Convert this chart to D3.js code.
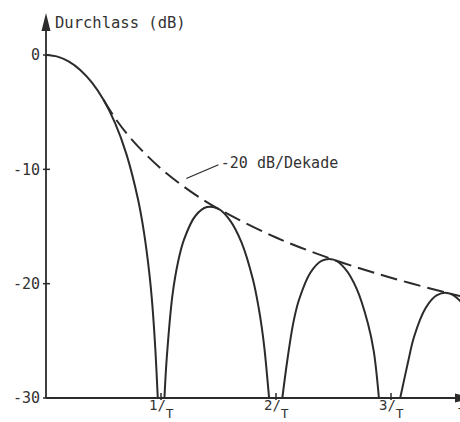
<!DOCTYPE html>
<html>
<head>
<meta charset="utf-8">
<script src="https://cdn.jsdelivr.net/npm/d3@7"></script>
<style>
  body { margin: 0; background: #fff; }
  svg { display: block; }
  text { font-family: "DejaVu Sans Mono", monospace; fill: #333; }
</style>
</head>
<body>
<div id="chart"></div>
<script>
// frequency in units of 1/T, attenuation in dB
const mainLobeF = [0, 0.1, 0.2, 0.3, 0.4, 0.5, 0.6, 0.7, 0.8, 0.85, 0.9, 0.925, 0.95, 0.972];
const mainLobeDb = [0, -0.14, -0.58, -1.33, -2.42, -3.92, -5.94, -8.69, -12.62, -15.39, -19.23, -21.9, -25.6, -30];

const lobe1F = [1.03, 1.05, 1.1, 1.15, 1.2, 1.3, 1.4, 1.5, 1.6, 1.7, 1.8, 1.85, 1.875, 1.9, 1.94];
const lobe1Db = [-30, -26.5, -20.97, -18.01, -16.14, -14.06, -13.3, -13.46, -14.46, -16.39, -19.66, -22.15, -23.74, -25.72, -30];

const lobe2F = [2.055, 2.1, 2.15, 2.2, 2.3, 2.4, 2.5, 2.6, 2.7, 2.8, 2.85, 2.895];
const lobe2Db = [-30, -26.59, -23.45, -21.41, -19.02, -17.98, -17.9, -18.68, -20.41, -23.5, -25.9, -30];

const lobe3F = [3.08, 3.15, 3.2, 3.3, 3.4, 3.5, 3.6, 3.7];
const lobe3Db = [-30, -26.77, -24.66, -22.15, -21.01, -20.83, -21.5, -23.15];

// -20 dB/Dekade envelope
const envF = [0.5, 0.6, 0.75, 1, 1.25, 1.5, 2, 2.5, 3, 3.5, 3.7];
const envDb = [-3.92, -5.51, -7.44, -9.94, -11.88, -13.46, -15.96, -17.9, -19.48, -20.83, -21.32];

const yTicks = [0, -10, -20, -30];
const xTicks = [1, 2, 3];
const xTickLabels = ["1", "2", "3"];

const W = 460, H = 422;
const ink = "#2b2b2b";

const svg = d3.select("#chart").append("svg")
  .attr("width", W)
  .attr("height", H);

const x = d3.scaleLinear().domain([0, 3.6]).range([46, 460]);
const y = d3.scaleLinear().domain([-30, 0]).range([398, 55]);

const line = d3.line()
  .x(d => x(d[0]))
  .y(d => y(d[1]))
  .curve(d3.curveCatmullRom.alpha(0.5));

const zip = (a, b) => a.map((v, i) => [v, b[i]]);

// axes
svg.append("line")
  .attr("x1", x(0)).attr("x2", x(0))
  .attr("y1", y(-30)).attr("y2", 24)
  .attr("stroke", ink).attr("stroke-width", 1.8);
svg.append("path")
  .attr("d", `M${x(0)},13 L${x(0) - 4.5},31 L${x(0) + 4.5},31 Z`)
  .attr("fill", ink);

svg.append("line")
  .attr("x1", x(0)).attr("x2", W)
  .attr("y1", y(-30)).attr("y2", y(-30))
  .attr("stroke", ink).attr("stroke-width", 1.8);
svg.append("path")
  .attr("d", `M${W - 5},${y(-30) - 4.5} L${W + 12},${y(-30)} L${W - 5},${y(-30) + 4.5} Z`)
  .attr("fill", ink);

// y ticks
svg.selectAll(".ytick").data(yTicks).enter().append("line")
  .attr("class", "ytick")
  .attr("x1", x(0) - 3).attr("x2", x(0) + 4)
  .attr("y1", d => y(d)).attr("y2", d => y(d))
  .attr("stroke", ink).attr("stroke-width", 1.5);

svg.selectAll(".ylabel").data(yTicks).enter().append("text")
  .attr("class", "ylabel")
  .attr("x", x(0) - 6)
  .attr("y", d => y(d))
  .attr("dy", "0.36em")
  .attr("text-anchor", "end")
  .style("font-size", "15px")
  .text(d => d === 0 ? "0" : "-" + Math.abs(d));

// x ticks
svg.selectAll(".xtick").data(xTicks).enter().append("line")
  .attr("class", "xtick")
  .attr("x1", d => x(d)).attr("x2", d => x(d))
  .attr("y1", y(-30) - 5).attr("y2", y(-30) + 2)
  .attr("stroke", ink).attr("stroke-width", 1.5);

const xl = svg.selectAll(".xlabel").data(xTicks).enter().append("text")
  .attr("class", "xlabel")
  .attr("x", d => x(d) - 12)
  .attr("y", 410)
  .style("font-size", "14px");
xl.append("tspan").text((d, i) => xTickLabels[i] + "/");
xl.append("tspan").attr("dy", 8).style("font-size", "13px").text("T");

svg.append("text")
  .attr("x", W - 3)
  .attr("y", 416)
  .style("font-size", "14px")
  .text("f");

// axis title
svg.append("text")
  .attr("x", 55)
  .attr("y", 28)
  .style("font-size", "15.5px")
  .text("Durchlass (dB)");

// curves
const lobes = [
  zip(mainLobeF, mainLobeDb),
  zip(lobe1F, lobe1Db),
  zip(lobe2F, lobe2Db),
  zip(lobe3F, lobe3Db)
];

svg.selectAll(".lobe").data(lobes).enter().append("path")
  .attr("class", "lobe")
  .attr("d", line)
  .attr("fill", "none")
  .attr("stroke", ink)
  .attr("stroke-width", 2);

svg.append("path")
  .datum(zip(envF, envDb))
  .attr("d", line)
  .attr("fill", "none")
  .attr("stroke", ink)
  .attr("stroke-width", 2)
  .attr("stroke-dasharray", "17,7");

// annotation
svg.append("line")
  .attr("x1", x(1.22)).attr("y1", y(-10.8))
  .attr("x2", x(1.5)).attr("y2", y(-9.6))
  .attr("stroke", ink).attr("stroke-width", 1.3);

svg.append("text")
  .attr("x", x(1.52))
  .attr("y", y(-9.6))
  .attr("dy", "0.2em")
  .style("font-size", "15px")
  .text("-20 dB/Dekade");
</script>
</body>
</html>
